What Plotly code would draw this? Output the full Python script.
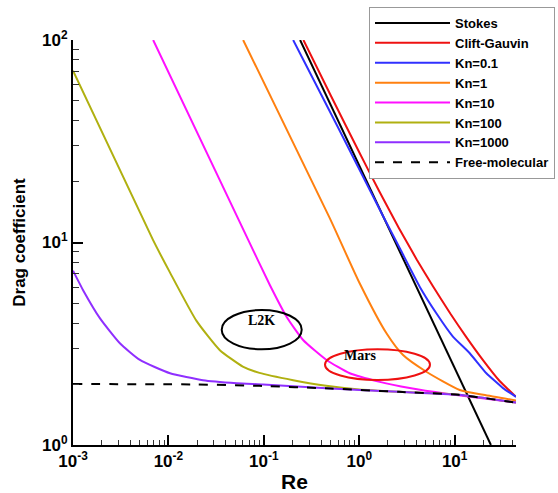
import plotly.graph_objects as go

# ---- data ----
stokes_re = [0.24, 24]
stokes_cd = [100, 1]

cg_re = [0.26, 0.5, 1.0, 1.6, 2.6, 4.0, 5.9, 9.0, 13.2, 20, 29.6, 44]
cg_cd = [100, 53.5, 27.9, 18.1, 11.8, 8.25, 6.1, 4.46, 3.42, 2.61, 2.07, 1.73]

kn01_re = [0.203, 0.6, 1.9, 2.66, 4.3, 6.43, 9.59, 14.4, 21.5, 32.1, 44]
kn01_cd = [100, 37, 12.7, 9.36, 6.05, 4.47, 3.43, 2.84, 2.26, 1.91, 1.73]

kn1_re = [0.0607, 0.491, 1.01, 1.93, 2.88, 5.05, 11.3, 20, 44]
kn1_cd = [100, 13.2, 6.29, 3.56, 2.78, 2.30, 1.87, 1.77, 1.66]

kn10_re = [0.00692, 0.0686, 0.1156, 0.173, 0.258, 0.454, 0.796, 1.64, 3.38, 8.19, 44]
kn10_cd = [100, 10.3, 6.17, 4.30, 3.30, 2.63, 2.26, 2.05, 1.91, 1.79, 1.62]

kn100_re = [0.001, 0.00689, 0.0104, 0.0197, 0.0346, 0.0602, 0.09, 0.203, 0.45, 1.0, 2.6, 11, 44]
kn100_cd = [70.5, 10.3, 7.1, 4.1, 2.94, 2.44, 2.27, 2.09, 1.96, 1.88, 1.83, 1.77, 1.62]

kn1000_re = [0.001, 0.00128, 0.00192, 0.0031, 0.00503, 0.0104, 0.023, 0.052, 0.098, 0.5, 2.6, 11, 44]
kn1000_cd = [7.26, 5.8, 4.22, 3.18, 2.63, 2.26, 2.09, 2.02, 1.99, 1.90, 1.83, 1.77, 1.62]

fm_re = [0.001, 0.02, 0.09, 0.5, 2.6, 11, 44]
fm_cd = [2.0, 1.99, 1.96, 1.90, 1.83, 1.77, 1.62]

x_tickvals = [1e-3, 1e-2, 1e-1, 1e0, 1e1]
x_ticktext = ["10<sup>-3</sup>", "10<sup>-2</sup>", "10<sup>-1</sup>", "10<sup>0</sup>", "10<sup>1</sup>"]
y_tickvals = [1, 10, 100]
y_ticktext = ["10<sup>0</sup>", "10<sup>1</sup>", "10<sup>2</sup>"]

x_minor = [k * 10 ** e for e in range(-3, 2) for k in range(2, 10) if k * 10 ** e <= 44]
y_minor = [k * 10 ** e for e in range(0, 2) for k in range(2, 10)]

series = [
    ("Stokes", stokes_re, stokes_cd, "#000000", "solid", "linear", 0),
    ("Clift-Gauvin", cg_re, cg_cd, "#ee1111", "solid", "spline", 0.5),
    ("Kn=0.1", kn01_re, kn01_cd, "#3030ff", "solid", "spline", 0.3),
    ("Kn=1", kn1_re, kn1_cd, "#ff8010", "solid", "spline", 0.6),
    ("Kn=10", kn10_re, kn10_cd, "#ff10ff", "solid", "spline", 0.5),
    ("Kn=100", kn100_re, kn100_cd, "#b0b010", "solid", "spline", 0.5),
    ("Kn=1000", kn1000_re, kn1000_cd, "#8f2fff", "solid", "spline", 0.5),
    ("Free-molecular", fm_re, fm_cd, "#000000", "dash", "spline", 0.5),
]

fig = go.Figure()
for name, xs, ys, col, dash, shape, sm in series:
    line = dict(color=col, width=2, dash=dash, shape=shape)
    if shape == "spline":
        line["smoothing"] = sm
    fig.add_trace(go.Scatter(x=xs, y=ys, name=name, mode="lines", line=line))

W, H = 558, 493
L, R, T, B = 73, 42, 40, 48
pw, ph = W - L - R, H - T - B

def px(x):
    return (x - L) / pw

def py(y):
    return (H - B - y) / ph

fig.update_layout(
    width=W, height=H,
    margin=dict(l=L, r=R, t=T, b=B, autoexpand=False),
    paper_bgcolor="white", plot_bgcolor="white",
    font=dict(family="Arial, Liberation Sans, sans-serif", color="black"),
    showlegend=True,
    legend=dict(
        x=px(369), y=py(7), xanchor="left", yanchor="top",
        bgcolor="white", bordercolor="#999999", borderwidth=1,
        font=dict(size=13, weight="bold", color="black"),
        itemwidth=75, tracegroupgap=0,
    ),
    xaxis=dict(
        type="log", range=[-3, 1.643],
        showline=True, linecolor="black", linewidth=2, mirror=False,
        showgrid=False, zeroline=False,
        ticks="inside", ticklen=10, tickwidth=1.5, tickcolor="black",
        tickvals=x_tickvals, ticktext=x_ticktext,
        tickfont=dict(size=17, weight="bold"),
        minor=dict(ticks="inside", ticklen=5, tickwidth=1, tickcolor="#333333", tickvals=x_minor, showgrid=False),
        title=dict(text="Re", font=dict(size=21, weight="bold"), standoff=16),
    ),
    yaxis=dict(
        type="log", range=[0, 2],
        showline=True, linecolor="black", linewidth=2, mirror=False,
        showgrid=False, zeroline=False,
        ticks="inside", ticklen=10, tickwidth=1.5, tickcolor="black",
        tickvals=y_tickvals, ticktext=y_ticktext,
        tickfont=dict(size=17, weight="bold"),
        minor=dict(ticks="inside", ticklen=6, tickwidth=1, tickcolor="#333333", tickvals=y_minor, showgrid=False),
        title=dict(text="Drag coefficient", font=dict(size=17, weight="bold"), standoff=12),
    ),
    shapes=[
        dict(type="circle", xref="paper", yref="paper",
             x0=px(221.7), x1=px(301.7), y0=py(349.3), y1=py(310),
             line=dict(color="black", width=2)),
        dict(type="circle", xref="paper", yref="paper",
             x0=px(325), x1=px(430), y0=py(380), y1=py(349.3),
             line=dict(color="#ee1111", width=2)),
    ],
    annotations=[
        dict(text="<b>L2K</b>", xref="paper", yref="paper", x=px(261.7), y=py(330),
             showarrow=False, font=dict(family="Liberation Serif, Times New Roman, serif", size=14, color="black")),
        dict(text="<b>Mars</b>", xref="paper", yref="paper", x=px(377.5), y=py(365),
             showarrow=False, font=dict(family="Liberation Serif, Times New Roman, serif", size=14, color="black")),
    ],
)

fig.write_html(
    "out.html",
    config={"displayModeBar": False},
    post_script="document.body.style.margin='0px';document.body.style.overflow='hidden';",
)
